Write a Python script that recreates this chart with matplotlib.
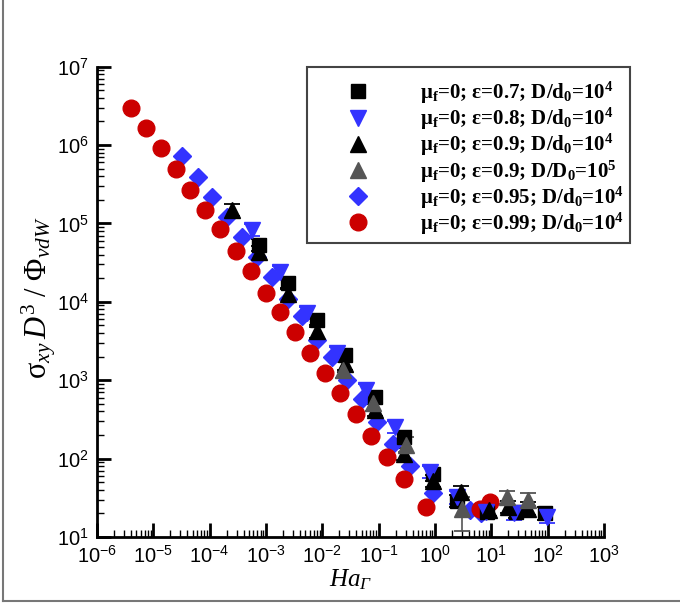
import matplotlib
matplotlib.use('Agg')
import matplotlib.pyplot as plt
from matplotlib.lines import Line2D
import numpy as np

plt.rcParams['font.family'] = 'Liberation Sans'
plt.rcParams['axes.unicode_minus'] = False
plt.rcParams['mathtext.fontset'] = 'custom'
plt.rcParams['mathtext.rm'] = 'Liberation Serif'
plt.rcParams['mathtext.it'] = 'Liberation Serif:italic'
plt.rcParams['mathtext.bf'] = 'Liberation Serif:bold'
plt.rcParams['mathtext.cal'] = 'Liberation Serif:italic'

# eps=0.7, D/d0=1e4 (black squares)
x_07 = [7.5e-4, 2.46e-3, 8.05e-3, 2.53e-2, 8.6e-2, 0.28, 0.92, 2.5, 8.5, 27, 90]
y_07 = [5.3e4, 1.73e4, 5.8e3, 2.1e3, 608, 188, 63, 29, 21, 21, 20]
# eps=0.8 (blue down triangles)
x_08 = [5.65e-4, 1.77e-3, 5.35e-3, 1.82e-2, 5.96e-2, 0.195, 0.817, 2.46, 8.0, 25, 97]
y_08 = [8.2e4, 2.4e4, 7.2e3, 2.2e3, 748, 252, 67, 32, 21, 20, 18]
# eps=0.9, D/d0=1e4 (black triangles)
x_09 = [2.5e-4, 7.5e-4, 2.46e-3, 8.05e-3, 2.53e-2, 8.6e-2, 0.28, 0.92, 2.9, 9, 20, 45]
y_09 = [1.48e5, 4.3e4, 1.25e4, 4.2e3, 1.6e3, 415, 115, 52, 37, 22, 24, 23]
# eps=0.9, D/D0=1e5 (gray triangles)
x_09b = [0.0234, 0.0794, 0.305, 3.0, 19, 44]
y_09b = [1.35e3, 513, 151, 23, 32, 30]
gray_lo = [1.25, 1.25, 1.25, 1.9, 1.2, 1.2]
gray_hi = [1.25, 1.25, 1.25, 1.4, 1.2, 1.2]
# eps=0.95 (blue diamonds)
x_095 = [3.2e-5, 6.2e-5, 1.1e-4, 2.0e-4, 3.75e-4, 6.9e-4, 1.28e-3, 2.46e-3, 4.36e-3,
         8.0e-3, 1.49e-2, 2.74e-2, 5.06e-2, 9.35e-2, 0.18, 0.36, 0.92, 4.2, 6.5]
y_095 = [7.2e5, 3.9e5, 2.2e5, 1.2e5, 6.7e4, 3.7e4, 2.07e4, 1.08e4, 6.6e3,
         3.3e3, 2.0e3, 1.0e3, 574, 292, 153, 80, 36, 22, 20]
# eps=0.99 (red circles)
x_099 = [4.0e-6, 7.4e-6, 1.37e-5, 2.5e-5, 4.5e-5, 8.3e-5, 1.5e-4, 2.9e-4, 5.4e-4, 1.0e-3,
         1.8e-3, 3.3e-3, 6.0e-3, 1.1e-2, 2.1e-2, 4.0e-2, 7.3e-2, 0.14, 0.28, 0.69, 6.3, 9.5]
y_099 = [3.0e6, 1.65e6, 9.1e5, 4.9e5, 2.7e5, 1.5e5, 8.5e4, 4.4e4, 2.5e4, 1.3e4,
         7.4e3, 4.1e3, 2.2e3, 1.23e3, 690, 370, 194, 105, 55, 24, 23, 28]

labels = [r'μ$_\mathbf{f}$=0; ε=0.7; D/d$_\mathbf{0}$=10$^\mathbf{4}$',
          r'μ$_\mathbf{f}$=0; ε=0.8; D/d$_\mathbf{0}$=10$^\mathbf{4}$',
          r'μ$_\mathbf{f}$=0; ε=0.9; D/d$_\mathbf{0}$=10$^\mathbf{4}$',
          r'μ$_\mathbf{f}$=0; ε=0.9; D/D$_\mathbf{0}$=10$^\mathbf{5}$',
          r'μ$_\mathbf{f}$=0; ε=0.95; D/d$_\mathbf{0}$=10$^\mathbf{4}$',
          r'μ$_\mathbf{f}$=0; ε=0.99; D/d$_\mathbf{0}$=10$^\mathbf{4}$']

blue = '#3333ff'
red = '#cc0000'
gray = '#555555'


def err(y, lo, hi):
    y = np.array(y)
    return [y - y / np.array(lo), y * np.array(hi) - y]


fig = plt.figure(figsize=(6.8, 6.07), dpi=100)
ax = fig.add_axes([0.1426, 0.1153, 0.7456, 0.7751])

ekw = dict(linestyle='none', capsize=6, elinewidth=1.2, capthick=1.3)
ax.errorbar(x_07, y_07, yerr=err(y_07, 1.2, 1.2), fmt='s', ms=10, color='k', **ekw)
ax.errorbar(x_08, y_08, yerr=err(y_08, 1.2, 1.2), fmt='v', ms=11.5, color=blue, **ekw)
ax.errorbar(x_09, y_09, yerr=err(y_09, 1.2, 1.2), fmt='^', ms=11.5, color='k', **ekw)
ax.errorbar(x_09b, y_09b, yerr=err(y_09b, gray_lo, gray_hi), fmt='^', ms=11.5, color=gray, **ekw)
ax.plot(x_095, y_095, 'D', ms=8.7, color=blue, linestyle='none')
ax.plot(x_099, y_099, 'o', ms=12, color=red, linestyle='none')

ax.set_xscale('log')
ax.set_yscale('log')
ax.set_xlim(1e-6, 1e3)
ax.set_ylim(1e1, 1e7)
ax.set_xticks([10.0 ** k for k in range(-6, 4)])
ax.set_yticks([10.0 ** k for k in range(1, 8)])
ax.xaxis.set_minor_locator(matplotlib.ticker.LogLocator(base=10, subs=np.arange(2, 10), numticks=20))
ax.yaxis.set_minor_locator(matplotlib.ticker.LogLocator(base=10, subs=np.arange(2, 10), numticks=20))
ax.xaxis.set_minor_formatter(matplotlib.ticker.NullFormatter())
ax.yaxis.set_minor_formatter(matplotlib.ticker.NullFormatter())

for s in ['top', 'right']:
    ax.spines[s].set_visible(False)
for s in ['left', 'bottom']:
    ax.spines[s].set_linewidth(2)
ax.tick_params(which='major', direction='in', length=10, width=2, labelsize=14.5, pad=6)
ax.tick_params(which='minor', direction='in', length=5, width=1)

ax.set_xlabel(r'$Ha_{\mathcal{Γ}}$', fontsize=18, labelpad=0)
ax.set_ylabel(r'$\mathrm{σ}_{xy}\,D^{\mathrm{3}}\ /\ \mathrm{Φ}_{vdW}$', fontsize=22)
ax.yaxis.set_label_coords(-0.076, 0.51)

handles = [Line2D([], [], marker='s', ms=10, color='k', ls='none'),
           Line2D([], [], marker='v', ms=11.5, color=blue, ls='none'),
           Line2D([], [], marker='^', ms=11.5, color='k', ls='none'),
           Line2D([], [], marker='^', ms=11.5, color=gray, ls='none'),
           Line2D([], [], marker='D', ms=8.7, color=blue, ls='none'),
           Line2D([], [], marker='o', ms=12, color=red, ls='none')]
leg = ax.legend(handles, labels, loc='upper right', bbox_to_anchor=(1.052, 1.0),
                prop={'family': 'Liberation Serif', 'weight': 'bold', 'size': 15},
                title=' ', title_fontsize=6,
                frameon=True, fancybox=False, framealpha=1,
                edgecolor='#444444', handlelength=4.28, handletextpad=0.84,
                borderpad=0.3, labelspacing=0.0, borderaxespad=0)
leg.get_frame().set_linewidth(1.5)

# outer frame
fig.add_artist(Line2D([0.004, 0.004], [0.01, 1.0], color='#777777', lw=1.5, transform=fig.transFigure))
fig.add_artist(Line2D([0.004, 1.0], [0.01, 0.01], color='#777777', lw=1.5, transform=fig.transFigure))

fig.savefig('out.png', dpi=100)
